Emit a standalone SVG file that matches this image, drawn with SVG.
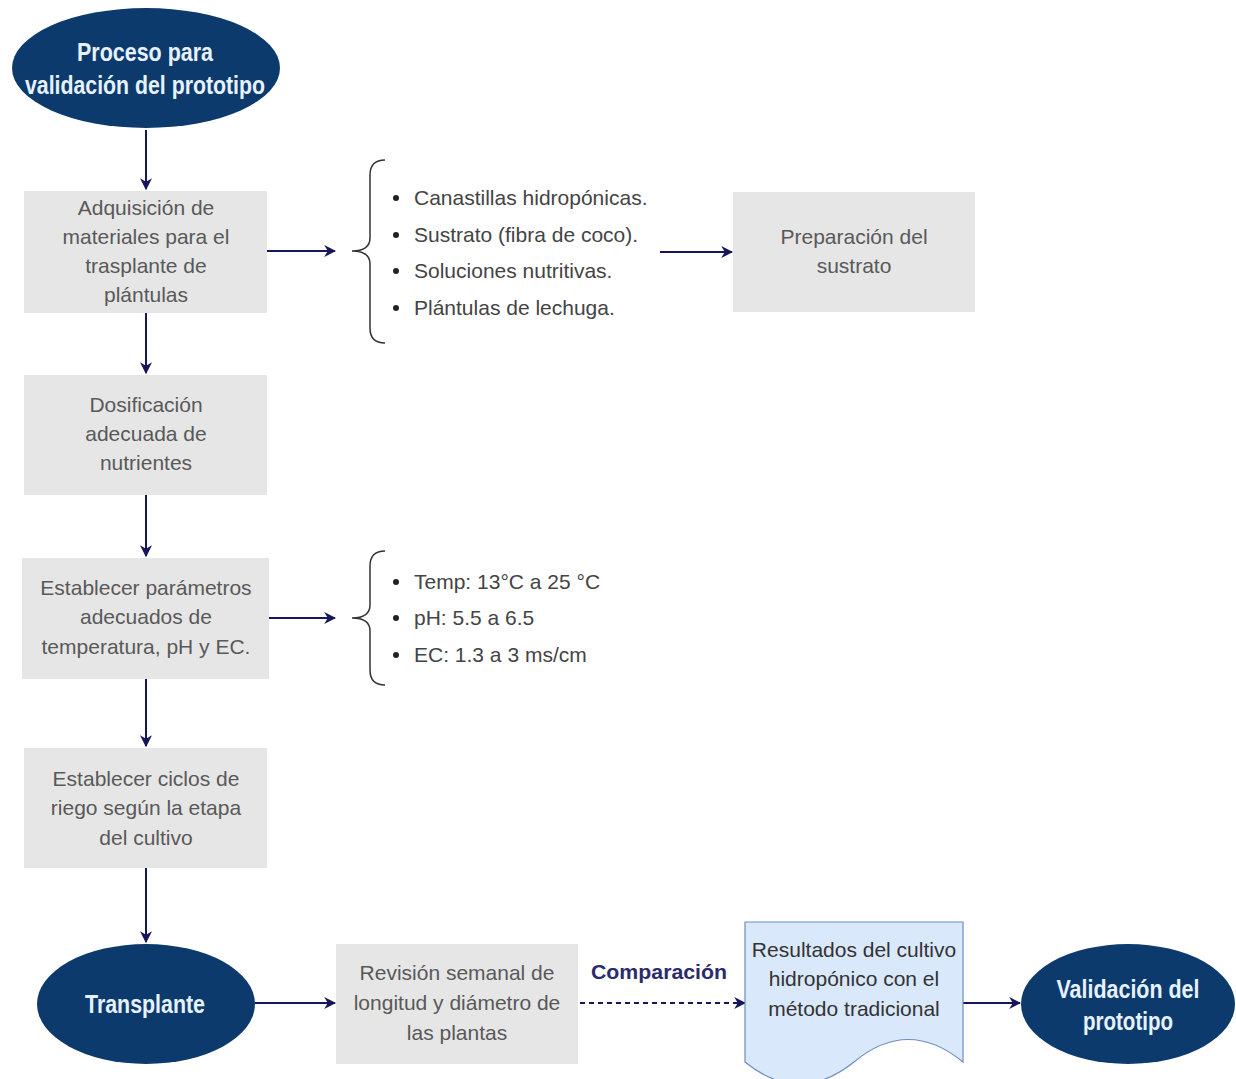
<svg xmlns="http://www.w3.org/2000/svg" width="1236" height="1079" viewBox="0 0 1236 1079">
<defs>
<marker id="ah" viewBox="0 0 10 10" refX="9" refY="5" markerWidth="12" markerHeight="12" markerUnits="userSpaceOnUse" orient="auto">
<path d="M0,0 L10,5 L0,10 L3,5 z" fill="#16165c"/>
</marker>
<style>
.box{fill:#e6e6e6;}
.ell{fill:#0d3a6c;}
.bt{font-family:"Liberation Sans",Arial,sans-serif;font-size:21px;fill:#595959;text-anchor:middle;}
.lt{font-family:"Liberation Sans",Arial,sans-serif;font-size:21px;fill:#444;}
.et{font-family:"Liberation Sans",Arial,sans-serif;font-size:25px;font-weight:bold;fill:#e6f2ff;text-anchor:middle;}
.dt{font-family:"Liberation Sans",Arial,sans-serif;font-size:21px;fill:#333;text-anchor:middle;}
.con{stroke:#16165c;stroke-width:2;fill:none;marker-end:url(#ah);}
.brace{stroke:#333;stroke-width:1.5;fill:none;}
</style>
</defs>

<g id="connectors">
<line class="con" x1="146" y1="130" x2="146" y2="189"/>
<line class="con" x1="146" y1="313" x2="146" y2="373"/>
<line class="con" x1="146" y1="495" x2="146" y2="556"/>
<line class="con" x1="146" y1="679" x2="146" y2="746"/>
<line class="con" x1="146" y1="868" x2="146" y2="942"/>
<line class="con" x1="267" y1="251" x2="335" y2="251"/>
<line class="con" x1="660" y1="252" x2="732" y2="252"/>
<line class="con" x1="269" y1="618" x2="335" y2="618"/>
<line class="con" x1="255" y1="1003" x2="335" y2="1003"/>
<line class="con" x1="580" y1="1003" x2="745" y2="1003" stroke-dasharray="5,4"/>
<line class="con" x1="963" y1="1003" x2="1020" y2="1003"/>
<text x="659" y="979" textLength="136" lengthAdjust="spacingAndGlyphs" style="font-family:'Liberation Sans',Arial,sans-serif;font-size:21px;font-weight:bold;fill:#2b2b6b;text-anchor:middle;">Comparación</text>
</g>

<g id="n-inicio">
<ellipse class="ell" cx="146" cy="68" rx="134" ry="60"/>
<text class="et" x="145" y="61" textLength="136" lengthAdjust="spacingAndGlyphs">Proceso para</text>
<text class="et" x="145" y="94" textLength="240" lengthAdjust="spacingAndGlyphs">validación del prototipo</text>
</g>

<g id="n-adquisicion">
<rect class="box" x="24" y="191" width="243" height="122"/>
<text class="bt" x="146" y="215">Adquisición de</text>
<text class="bt" x="146" y="244">materiales para el</text>
<text class="bt" x="146" y="273">trasplante de</text>
<text class="bt" x="146" y="302">plántulas</text>
</g>

<g id="n-lista-materiales">
<path class="brace" d="M385,160 Q370,160 370,175 V238 Q370,251 352,251 Q370,251 370,264 V328 Q370,343 385,343"/>
<circle cx="396" cy="198" r="3" fill="#222"/>
<circle cx="396" cy="235" r="3" fill="#222"/>
<circle cx="396" cy="271" r="3" fill="#222"/>
<circle cx="396" cy="308" r="3" fill="#222"/>
<text class="lt" x="414" y="205">Canastillas hidropónicas.</text>
<text class="lt" x="414" y="242">Sustrato (fibra de coco).</text>
<text class="lt" x="414" y="278">Soluciones nutritivas.</text>
<text class="lt" x="414" y="315">Plántulas de lechuga.</text>
</g>

<g id="n-preparacion">
<rect class="box" x="733" y="192" width="242" height="120"/>
<text class="bt" x="854" y="244">Preparación del</text>
<text class="bt" x="854" y="273">sustrato</text>
</g>

<g id="n-dosificacion">
<rect class="box" x="24" y="375" width="243" height="120"/>
<text class="bt" x="146" y="412">Dosificación</text>
<text class="bt" x="146" y="441">adecuada de</text>
<text class="bt" x="146" y="470">nutrientes</text>
</g>

<g id="n-parametros">
<rect class="box" x="22" y="558" width="247" height="121"/>
<text class="bt" x="146" y="595">Establecer parámetros</text>
<text class="bt" x="146" y="624">adecuados de</text>
<text class="bt" x="146" y="654">temperatura, pH y EC.</text>
</g>

<g id="n-lista-parametros">
<path class="brace" d="M385,551 Q370,551 370,566 V605 Q370,618 352,618 Q370,618 370,631 V670 Q370,685 385,685"/>
<circle cx="396" cy="582" r="3" fill="#222"/>
<circle cx="396" cy="618" r="3" fill="#222"/>
<circle cx="396" cy="655" r="3" fill="#222"/>
<text class="lt" x="414" y="589">Temp: 13°C a 25 °C</text>
<text class="lt" x="414" y="625">pH: 5.5 a 6.5</text>
<text class="lt" x="414" y="662">EC: 1.3 a 3 ms/cm</text>
</g>

<g id="n-riego">
<rect class="box" x="24" y="748" width="243" height="120"/>
<text class="bt" x="146" y="786">Establecer ciclos de</text>
<text class="bt" x="146" y="815">riego según la etapa</text>
<text class="bt" x="146" y="845">del cultivo</text>
</g>

<g id="n-transplante">
<ellipse class="ell" cx="146" cy="1004" rx="109" ry="60"/>
<text class="et" x="145" y="1013" textLength="120" lengthAdjust="spacingAndGlyphs">Transplante</text>
</g>

<g id="n-revision">
<rect class="box" x="336" y="944" width="242" height="120"/>
<text class="bt" x="457" y="980">Revisión semanal de</text>
<text class="bt" x="457" y="1010">longitud y diámetro de</text>
<text class="bt" x="457" y="1040">las plantas</text>
</g>

<g id="n-resultados">
<path d="M745,922 H963 V1062 Q908,1017 854,1062 Q799,1106 745,1062 Z" fill="#dae8fc" stroke="#6c8ebf" stroke-width="1.2"/>
<text class="dt" x="854" y="957">Resultados del cultivo</text>
<text class="dt" x="854" y="986">hidropónico con el</text>
<text class="dt" x="854" y="1016">método tradicional</text>
</g>

<g id="n-validacion">
<ellipse class="ell" cx="1128" cy="1004" rx="107" ry="60"/>
<text class="et" x="1128" y="998" textLength="143" lengthAdjust="spacingAndGlyphs">Validación del</text>
<text class="et" x="1128" y="1030" textLength="90" lengthAdjust="spacingAndGlyphs">prototipo</text>
</g>
</svg>
